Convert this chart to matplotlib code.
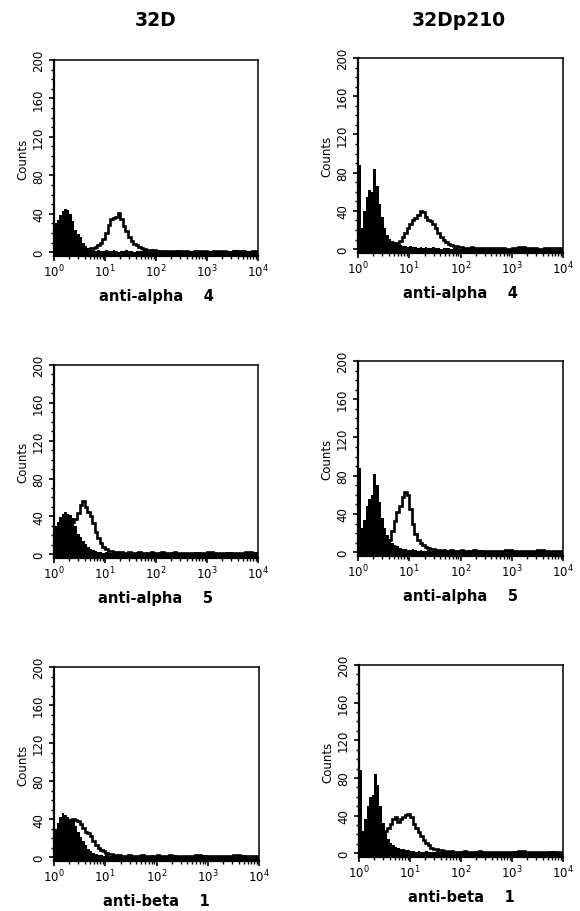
import numpy as np
import matplotlib
matplotlib.use("Agg")
import matplotlib.pyplot as plt
from matplotlib.ticker import FixedLocator, MultipleLocator, LogLocator, NullFormatter

plt.rcParams['font.family'] = ['DejaVu Sans']
plt.rcParams['mathtext.fontset'] = 'dejavusans'
plt.rcParams['mathtext.default'] = 'regular'

# ---------------- data ----------------
column_titles = ["32D", "32Dp210"]
row_labels = ["anti-alpha    4", "anti-alpha    5", "anti-beta    1"]
xtick_values = [1, 10, 100, 1000, 10000]
xtick_labels = ["$10^{0}$", "$10^{1}$", "$10^{2}$", "$10^{3}$", "$10^{4}$"]
ytick_values = [0, 40, 80, 120, 160, 200]

# channel bins: 50 fine bins (1/20 decade, 10^0..10^2.5) + 12 coarse (1/8 decade, ..10^4)
log_edges = np.concatenate([np.arange(51) / 20.0, 2.5 + np.arange(1, 13) / 8.0])

# first-channel pile-up (height at 10^0)
first_channel = [112, 168, 112, 165, 112, 165]

tl_filled = [30, 33, 39, 43, 45, 44, 40, 32, 23, 19, 16, 10, 6, 4, 2, 2, 1, 2, 1, 1,
             2, 1, 1, 2, 1, 0, 1, 1, 2, 1, 1, 0, 1, 1, 1, 2, 1, 0, 1, 1,
             1, 2, 1, 1, 0, 1, 1, 1, 2, 1,
             1, 1, 0, 1, 1, 1, 0, 1, 2, 1, 1, 1]
tl_open = [1, 1, 1, 1, 2, 1, 1, 2, 1, 2, 2, 2, 3, 3, 4, 4, 5, 7, 10, 14,
           20, 28, 35, 36, 37, 41, 35, 27, 22, 16, 12, 9, 7, 5, 4, 3, 2, 2, 1, 2,
           1, 1, 1, 0, 1, 1, 0, 1, 1, 1,
           1, 0, 1, 1, 0, 1, 1, 0, 1, 1, 0, 1]

tr_filled = [88, 22, 40, 55, 62, 60, 84, 66, 47, 34, 22, 15, 11, 9, 8, 6, 4, 3, 3, 2,
             3, 2, 2, 1, 2, 1, 2, 1, 1, 2, 1, 1, 0, 1, 1, 1, 0, 1, 1, 0,
             1, 1, 0, 1, 0, 1, 1, 0, 1, 1,
             1, 0, 1, 0, 1, 1, 0, 1, 0, 1, 1, 1]
tr_open = [2, 2, 2, 2, 2, 2, 2, 3, 3, 3, 4, 4, 5, 6, 6, 6, 9, 13, 17, 22,
           26, 30, 33, 36, 40, 39, 34, 31, 29, 26, 22, 17, 13, 10, 7, 5, 4, 3, 3, 2,
           2, 1, 1, 1, 2, 1, 1, 1, 1, 1,
           1, 1, 1, 0, 1, 2, 1, 1, 0, 1, 1, 1]

ml_filled = [30, 34, 39, 43, 45, 42, 41, 38, 30, 21, 18, 14, 11, 8, 6, 4, 3, 2, 2, 1,
             2, 1, 1, 2, 1, 1, 1, 2, 1, 1, 1, 1, 2, 1, 1, 1, 2, 1, 1, 1,
             1, 2, 1, 1, 1, 1, 2, 1, 1, 1,
             1, 1, 2, 1, 1, 1, 1, 2, 1, 1, 1, 2]
ml_open = [10, 12, 15, 18, 22, 26, 30, 34, 37, 44, 52, 56, 50, 45, 40, 33, 24, 17, 12, 8,
           5, 3, 3, 2, 2, 1, 2, 1, 1, 2, 1, 1, 1, 2, 1, 1, 1, 1, 2, 1,
           1, 1, 2, 1, 1, 1, 1, 2, 1, 1,
           1, 1, 1, 1, 2, 1, 1, 1, 1, 1, 2, 1]

mr_filled = [88, 25, 34, 48, 56, 60, 82, 70, 52, 36, 25, 18, 14, 10, 8, 6, 4, 3, 3, 2,
             2, 3, 2, 1, 2, 1, 1, 2, 1, 1, 2, 1, 1, 1, 2, 1, 1, 1, 1, 2,
             1, 1, 1, 2, 1, 1, 1, 1, 2, 1,
             1, 1, 1, 1, 0, 1, 1, 1, 1, 0, 1, 1]
mr_open = [2, 2, 2, 2, 2, 2, 2, 2, 2, 3, 4, 7, 13, 22, 33, 42, 48, 58, 63, 60,
           45, 30, 19, 13, 10, 7, 5, 4, 3, 3, 2, 2, 1, 2, 1, 1, 2, 1, 1, 1,
           2, 1, 1, 1, 1, 2, 1, 1, 1, 1,
           1, 1, 1, 2, 1, 1, 1, 1, 2, 1, 1, 1]

bl_filled = [30, 36, 42, 46, 44, 42, 40, 38, 33, 27, 21, 17, 13, 9, 6, 4, 3, 2, 2, 1,
             2, 1, 1, 1, 2, 1, 1, 1, 1, 2, 1, 1, 1, 2, 1, 1, 1, 1, 2, 1,
             1, 2, 1, 1, 1, 1, 1, 2, 1, 1,
             1, 1, 1, 2, 1, 1, 1, 1, 1, 2, 1, 1]
bl_open = [20, 25, 30, 34, 37, 38, 39, 40, 39, 38, 35, 31, 27, 25, 22, 17, 13, 10, 8, 6,
           4, 3, 3, 2, 1, 2, 1, 1, 1, 2, 1, 1, 1, 1, 2, 1, 1, 1, 1, 1,
           2, 1, 1, 1, 1, 2, 1, 1, 1, 1,
           1, 1, 2, 1, 1, 1, 1, 1, 2, 1, 1, 1]

br_filled = [88, 24, 36, 50, 60, 62, 84, 72, 50, 32, 22, 15, 11, 9, 7, 6, 5, 4, 3, 3,
             2, 2, 1, 2, 1, 1, 2, 1, 1, 1, 2, 1, 1, 1, 1, 2, 1, 1, 1, 1,
             2, 1, 1, 1, 1, 1, 2, 1, 1, 1,
             1, 1, 1, 1, 2, 1, 1, 1, 1, 1, 2, 1]
br_open = [5, 6, 8, 10, 12, 14, 16, 18, 20, 22, 24, 27, 31, 36, 38, 33, 36, 39, 41, 42,
           38, 31, 27, 23, 18, 14, 11, 9, 6, 5, 4, 3, 3, 2, 2, 1, 2, 1, 1, 1,
           1, 2, 1, 1, 1, 1, 1, 2, 1, 1,
           1, 1, 1, 1, 1, 2, 1, 1, 1, 1, 1, 1]

filled_series = [tl_filled, tr_filled, ml_filled, mr_filled, bl_filled, br_filled]
open_series = [tl_open, tr_open, ml_open, mr_open, bl_open, br_open]

# ---------------- layout (pixel boxes: left, top, right, bottom) ----------------
W, H = 580, 912
boxes = [(54, 61, 258, 257), (358, 59, 563, 254),
         (54, 366, 258, 559), (358, 362, 563, 557),
         (54, 668, 259, 862), (359, 666, 563, 858)]

fig = plt.figure(figsize=(W / 100, H / 100), dpi=100)
edges = 10 ** log_edges
YMIN = -4

for i, (l, t, r, b) in enumerate(boxes):
    ax = fig.add_axes([l / W, 1 - b / H, (r - l) / W, (b - t) / H])
    ax.stairs(filled_series[i], edges, fill=True, baseline=YMIN, color='black', lw=0)
    ax.stairs(open_series[i], edges, fill=False, baseline=None, color='black', lw=1.9)
    ax.bar(1.0, first_channel[i] - YMIN, width=0.035, bottom=YMIN, align='edge',
           color='black', lw=0)
    ax.set_xscale('log')
    ax.set_xlim(1, 1e4)
    ax.set_ylim(YMIN, 200)
    ax.xaxis.set_major_locator(FixedLocator(xtick_values))
    ax.set_xticklabels(xtick_labels)
    ax.xaxis.set_minor_locator(LogLocator(base=10, subs=np.arange(2, 10)))
    ax.xaxis.set_minor_formatter(NullFormatter())
    ax.set_yticks(ytick_values)
    ax.yaxis.set_minor_locator(MultipleLocator(10))
    for s in ['left', 'bottom']:
        ax.spines[s].set_linewidth(1.6)
    for s in ['top', 'right']:
        ax.spines[s].set_linewidth(1.1)
    ax.tick_params(axis='both', which='major', direction='out', length=3.5, width=1.2,
                   labelsize=8.5, color='black')
    ax.tick_params(axis='both', which='minor', direction='out', length=2.2, width=1.0)
    ax.tick_params(axis='x', which='major', pad=1.5)
    ax.tick_params(axis='y', which='major', pad=3)
    for lab in ax.get_yticklabels():
        lab.set_rotation(90)
        lab.set_va('center')
    ax.set_ylabel("Counts", fontsize=8.5, labelpad=2)
    ax.set_xlabel(row_labels[i // 2], fontsize=10.5, fontweight='bold', labelpad=6)

fig.text(156 / W, 1 - 21 / H, column_titles[0], ha='center', va='center',
         fontsize=13.5, fontweight='bold')
fig.text(459 / W, 1 - 21 / H, column_titles[1], ha='center', va='center',
         fontsize=13.5, fontweight='bold')

fig.savefig("out.png", dpi=100)
